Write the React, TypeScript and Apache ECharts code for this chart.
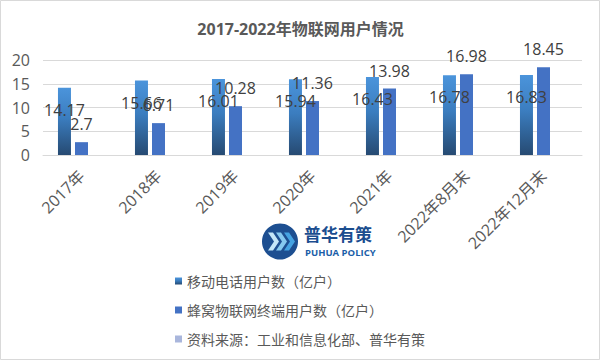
import React, { useEffect, useRef } from "react";
import * as echarts from "echarts";

const categories = ["2017年", "2018年", "2019年", "2020年", "2021年", "2022年8月末", "2022年12月末"];
const mobileUsers = [14.17, 15.66, 16.01, 15.94, 16.43, 16.78, 16.83];
const iotUsers = [2.7, 6.71, 10.28, 11.36, 13.98, 16.98, 18.45];
const sourceValues = [null, null, null, null, null, null, null];
const seriesNames = ["移动电话用户数（亿户）", "蜂窝物联网终端用户数（亿户）", "资料来源：工业和信息化部、普华有策"];
const yTicks = { min: 0, max: 20, interval: 5 };

const FONT = '"Open Sans", "Noto Sans CJK SC", sans-serif';

export default function App() {
  const ref = useRef<HTMLDivElement>(null);
  useEffect(() => {
    if (!ref.current) return;
    const chart = echarts.init(ref.current, undefined, { renderer: "svg" });
    const chevron = (x: number, y: number, color: string) => ({
      type: "polygon",
      shape: {
        points: [
          [x, y - 9],
          [x + 5, y - 9],
          [x + 11, y],
          [x + 5, y + 9],
          [x, y + 9],
          [x + 6, y],
        ],
      },
      style: { fill: color },
    });
    chart.setOption({
      animation: false,
      backgroundColor: "#ffffff",
      textStyle: { fontFamily: FONT },
      title: {
        text: "2017-2022年物联网用户情况",
        left: "center",
        top: 16,
        textStyle: { fontSize: 16, fontWeight: "bold", color: "#595959", fontFamily: FONT },
      },
      grid: { left: 43, right: 19, top: 60, bottom: 206, containLabel: false },
      legend: {
        orient: "vertical",
        left: 170,
        top: 269,
        itemGap: 15,
        itemWidth: 7,
        itemHeight: 7,
        icon: "rect",
        textStyle: { fontSize: 14, color: "#595959", lineHeight: 14, fontFamily: FONT },
        data: seriesNames,
      },
      xAxis: {
        type: "category",
        data: categories,
        axisLine: { show: true, lineStyle: { color: "#d9d9d9" } },
        axisTick: { show: false },
        axisLabel: { rotate: 45, fontSize: 16, color: "#595959", margin: 18, interval: 0, fontFamily: FONT },
      },
      yAxis: {
        type: "value",
        min: yTicks.min,
        max: yTicks.max,
        interval: yTicks.interval,
        axisLine: { show: false },
        axisTick: { show: false },
        splitLine: { lineStyle: { color: "#d9d9d9" } },
        axisLabel: { fontSize: 16, color: "#595959", margin: 13, fontFamily: FONT },
      },
      series: [
        {
          name: seriesNames[0],
          type: "bar",
          data: mobileUsers,
          barWidth: 13,
          barGap: "31%",
          itemStyle: {
            color: new echarts.graphic.LinearGradient(0, 0, 0, 1, [
              { offset: 0, color: "#4b94db" },
              { offset: 0.45, color: "#3b7dbf" },
              { offset: 1, color: "#264a72" },
            ]),
          },
          label: {
            show: true,
            position: "insideTop",
            distance: 14,
            fontSize: 16,
            color: "#404040",
            fontFamily: FONT,
          },
        },
        {
          name: seriesNames[1],
          type: "bar",
          data: iotUsers,
          barWidth: 13,
          barGap: "31%",
          itemStyle: { color: "#4472c4" },
          label: {
            show: true,
            position: "top",
            distance: 10,
            fontSize: 16,
            color: "#404040",
            fontFamily: FONT,
          },
        },
        {
          name: seriesNames[2],
          type: "bar",
          data: sourceValues,
          barWidth: 13,
          barGap: "31%",
          itemStyle: { color: "#a9b6dc" },
        },
      ],
      graphic: [
        {
          type: "rect",
          shape: { x: 0.5, y: 0.5, width: 599, height: 359 },
          style: { fill: "none", stroke: "#d9d9d9", lineWidth: 1 },
          silent: true,
        },
        {
          type: "group",
          children: [
            { type: "circle", shape: { cx: 280, cy: 241.5, r: 18 }, style: { fill: "#1d4f91" } },
            chevron(268, 241.5, "#c4e6f8"),
            chevron(276, 241.5, "#86c9ef"),
            chevron(284, 241.5, "#45a3e2"),
            {
              type: "text",
              x: 304,
              y: 225,
              style: {
                text: "普华有策",
                fontSize: 17,
                fontWeight: "bold",
                fill: "#1b4d8f",
                fontFamily: '"Noto Sans CJK SC", sans-serif',
              },
            },
            {
              type: "text",
              x: 305,
              y: 247,
              style: {
                text: "PUHUA POLICY",
                fontSize: 9.5,
                fontWeight: "bold",
                fill: "#1b5ea8",
                fontFamily: '"Open Sans", sans-serif',
              },
            },
          ],
        },
      ],
    });
    return () => chart.dispose();
  }, []);
  return <div ref={ref} style={{ position: "fixed", left: 0, top: 0, width: 601, height: 361 }} />;
}
